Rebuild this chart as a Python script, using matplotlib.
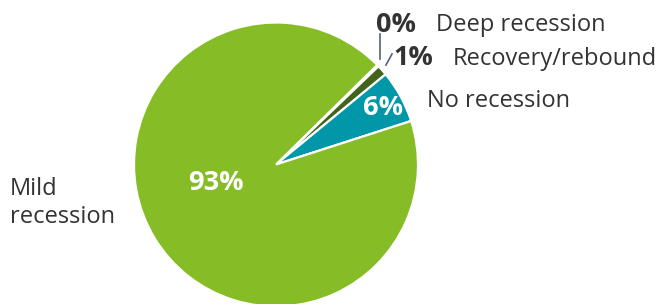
import matplotlib
matplotlib.use("Agg")
import matplotlib.pyplot as plt

plt.rcParams['font.family'] = ['Open Sans', 'DejaVu Sans']

# data
categories = ["Deep recession", "Recovery/rebound", "No recession", "Mild recession"]
shares = [0.2, 1.2, 6.0, 92.6]
colors = ["#3d5a80", "#43631b", "#0097a9", "#86bc25"]

W, H = 662, 304
fig = plt.figure(figsize=(W / 100, H / 100), dpi=100)
ax = fig.add_axes([0, 0, 1, 1])

cx, cy, r = 276, H - 164.5, 142
ax.pie(shares, colors=colors, startangle=44.5, counterclock=False,
       center=(cx, cy), radius=r, frame=True,
       wedgeprops=dict(edgecolor="white", linewidth=1.6))
ax.set_xlim(0, W)
ax.set_ylim(0, H)
ax.axis("off")

pct = [f"{v:.0f}%" for v in shares]
dark = "#333333"
line_c = "#53627a"
fs = 17
fsb = 19.5

# deep recession
ax.text(396, H - 32, pct[0], ha="center", va="baseline", fontsize=fsb, fontweight="bold", color=dark)
ax.text(436, H - 31, categories[0], ha="left", va="baseline", fontsize=fs, color=dark)
ax.plot([380, 380], [H - 34, H - 59], color=line_c, lw=1.2)

# recovery
ax.text(413, H - 65, pct[1], ha="center", va="baseline", fontsize=fsb, fontweight="bold", color=dark)
ax.text(453, H - 65, categories[1], ha="left", va="baseline", fontsize=fs, color=dark)
ax.plot([386, 392], [H - 65, H - 54], color=line_c, lw=1.2)

# no recession
ax.text(383, H - 115, pct[2], ha="center", va="baseline", fontsize=fsb, fontweight="bold", color="white")
ax.text(427, H - 107, categories[2], ha="left", va="baseline", fontsize=fs, color=dark)

# mild recession
ax.text(216, H - 190, pct[3], ha="center", va="baseline", fontsize=fsb, fontweight="bold", color="white")
ax.text(10, H - 195, "Mild", ha="left", va="baseline", fontsize=fs, color=dark)
ax.text(10, H - 223, "recession", ha="left", va="baseline", fontsize=fs, color=dark)

fig.savefig("out.png", dpi=100)
